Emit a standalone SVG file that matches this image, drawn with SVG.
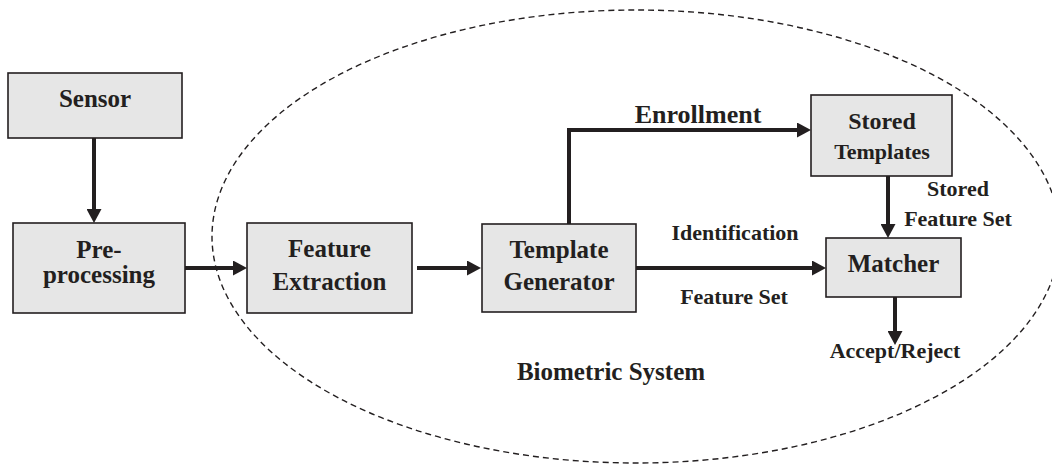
<svg xmlns="http://www.w3.org/2000/svg" width="1052" height="466" viewBox="0 0 1052 466">
  <style>
    .box { fill: #e6e6e6; stroke: #231f20; stroke-width: 1.6; }
    .lbl { font-weight: bold; fill: #231f20; text-anchor: middle; }
    .big { font-size: 25px; }
    .mid { font-size: 22px; }
    .wire { fill: none; stroke: #231f20; stroke-width: 4; }
    .boundary { fill: none; stroke: #231f20; stroke-width: 1.4; stroke-dasharray: 6 4; }
  </style>
  <defs>
    <marker id="head" markerUnits="userSpaceOnUse" markerWidth="14" markerHeight="15" viewBox="0 0 14 15" refX="0" refY="7.5" orient="auto">
      <path d="M0,0 L14,7.5 L0,15 z" fill="#231f20"/>
    </marker>
  </defs>

  <rect width="1052" height="466" fill="#ffffff"/>

  <g font-family="'Liberation Serif', 'DejaVu Serif', serif">
  <!-- dashed system boundary -->
  <ellipse class="boundary" cx="636" cy="236.5" rx="424" ry="226.5"/>
  <text class="lbl big" x="611" y="380">Biometric System</text>

  <!-- connectors -->
  <g id="connectors">
    <line class="wire" x1="94" y1="138" x2="94" y2="209" marker-end="url(#head)"/>
    <line class="wire" x1="185" y1="268" x2="233" y2="268" marker-end="url(#head)"/>
    <line class="wire" x1="417" y1="268" x2="467" y2="268" marker-end="url(#head)"/>
    <polyline class="wire" points="569,224 569,130 797,130" marker-end="url(#head)"/>
    <line class="wire" x1="636" y1="268" x2="812" y2="268" marker-end="url(#head)"/>
    <line class="wire" x1="888" y1="176" x2="888" y2="224" marker-end="url(#head)"/>
    <line class="wire" x1="895" y1="297" x2="895" y2="331" marker-end="url(#head)"/>
    <text class="lbl" x="698" y="123" font-size="26px">Enrollment</text>
    <text class="lbl mid" x="735" y="240">Identification</text>
    <text class="lbl mid" x="734" y="304">Feature Set</text>
    <text class="lbl mid" x="958" y="196">Stored</text>
    <text class="lbl mid" x="958" y="226">Feature Set</text>
    <text class="lbl mid" x="895" y="358">Accept/Reject</text>
  </g>

  <!-- nodes -->
  <g id="sensor">
    <rect class="box" x="8" y="73" width="174" height="65"/>
    <text class="lbl big" x="95" y="107">Sensor</text>
  </g>
  <g id="preprocessing">
    <rect class="box" x="13" y="223" width="172" height="90"/>
    <text class="lbl big" x="99" y="258">Pre-</text>
    <text class="lbl big" x="99" y="283">processing</text>
  </g>
  <g id="feature-extraction">
    <rect class="box" x="247" y="223" width="165" height="90"/>
    <text class="lbl big" x="329.5" y="257">Feature</text>
    <text class="lbl big" x="329.5" y="290">Extraction</text>
  </g>
  <g id="template-generator">
    <rect class="box" x="482" y="224" width="154" height="88"/>
    <text class="lbl big" x="559" y="258">Template</text>
    <text class="lbl big" x="559" y="290">Generator</text>
  </g>
  <g id="stored-templates">
    <rect class="box" x="811" y="95" width="141" height="81"/>
    <text class="lbl" x="882" y="129" font-size="24px">Stored</text>
    <text class="lbl mid" x="882" y="159">Templates</text>
  </g>
  <g id="matcher">
    <rect class="box" x="826" y="238" width="135" height="59"/>
    <text class="lbl big" x="893.5" y="272">Matcher</text>
  </g>
  </g>
</svg>
